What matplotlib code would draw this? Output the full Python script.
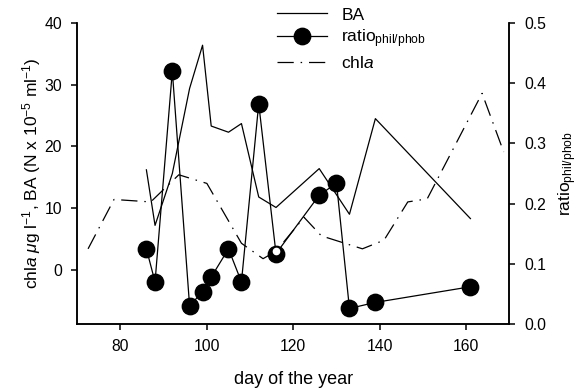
import matplotlib
matplotlib.use("Agg")
import matplotlib.pyplot as plt

plt.rcParams['font.family'] = ['Liberation Sans', 'DejaVu Sans']
plt.rcParams['mathtext.fontset'] = 'custom'
plt.rcParams['mathtext.rm'] = 'Liberation Sans'
plt.rcParams['mathtext.it'] = 'Liberation Sans:italic'
plt.rcParams['mathtext.bf'] = 'Liberation Sans:bold'

# Data
ba_day = [86, 88, 92, 96, 99, 101, 105, 108, 112, 116, 126, 133, 139, 161]
ba_val = [16.2, 7.2, 15.6, 29.4, 36.4, 23.3, 22.3, 23.7, 11.8, 10.1, 16.4, 9.0, 24.5, 8.3]

ratio_day = [86, 88, 92, 96, 99, 101, 105, 108, 112, 116, 126, 130, 133, 139, 161]
ratio_val = [0.125, 0.070, 0.420, 0.030, 0.054, 0.078, 0.125, 0.070, 0.366, 0.117,
             0.214, 0.234, 0.026, 0.036, 0.062]

chla_day = [72.5, 78.5, 87, 93.5, 100, 108, 113, 116, 122.5, 126.5, 136, 141, 146.5, 151, 163.7, 168.7]
chla_val = [3.4, 11.4, 11.0, 15.4, 14.0, 4.3, 1.8, 3.0, 8.5, 5.5, 3.4, 4.8, 11.0, 11.5, 28.6, 19.1]

x_ticks = [80, 100, 120, 140, 160]
left_ticks = [0, 10, 20, 30, 40]
right_ticks = [0.0, 0.1, 0.2, 0.3, 0.4, 0.5]

fig = plt.figure(figsize=(5.81, 3.90), dpi=100)
ax = fig.add_axes([0.133, 0.169, 0.7436, 0.772])
ax2 = ax.twinx()
ax.set_zorder(ax2.get_zorder() + 1)
ax.patch.set_visible(False)

lw = 0.9
l_ba, = ax.plot(ba_day, ba_val, color='black', lw=lw, label='BA')
l_ratio, = ax2.plot(ratio_day, ratio_val, color='black', lw=lw, marker='o',
                    ms=11.8, mfc='black', mec='black', label=r'ratio$_{\mathrm{phil/phob}}$')
l_chla, = ax.plot(chla_day, chla_val, color='black', lw=lw, dashes=[13, 5.5, 1.2, 5.5],
                  label=r'chl$\it{a}$')
i = chla_day.index(116)
ax.plot([chla_day[i]], [chla_val[i]], 'o', ms=4.5, mfc='white', mec='white')

ax.set_xlim(70, 170)
ax.set_ylim(-8.8, 40)
ax2.set_ylim(0, 0.5)
ax.set_xticks(x_ticks)
ax.set_yticks(left_ticks)
ax2.set_yticks(right_ticks)
ax2.set_yticklabels([f"{t:.1f}" for t in right_ticks])

for a in (ax, ax2):
    a.spines['top'].set_visible(False)
    for s in a.spines.values():
        s.set_linewidth(1.1)
ax.tick_params(axis='both', direction='out', length=4, width=1.1, labelsize=11.3, pad=7)
ax2.tick_params(axis='y', direction='out', length=4, width=1.1, labelsize=11.3, pad=7)

ax.set_xlabel('day of the year', fontsize=13, labelpad=12)
ax.set_ylabel(r'chl$\it{a}$ $\mu$g l$^{-1}$, BA (N x 10$^{-5}$ ml$^{-1}$)', fontsize=12.5, labelpad=1)
ax2.set_ylabel(r'ratio$_{\mathrm{phil/phob}}$', fontsize=12.5, labelpad=7)

leg = ax.legend(handles=[l_ba, l_ratio, l_chla], loc='upper left',
                bbox_to_anchor=(0.446, 1.075), frameon=False, fontsize=12.5,
                handlelength=2.9, handletextpad=0.8, labelspacing=0.28, borderaxespad=0)

fig.savefig('out.png', dpi=100)
